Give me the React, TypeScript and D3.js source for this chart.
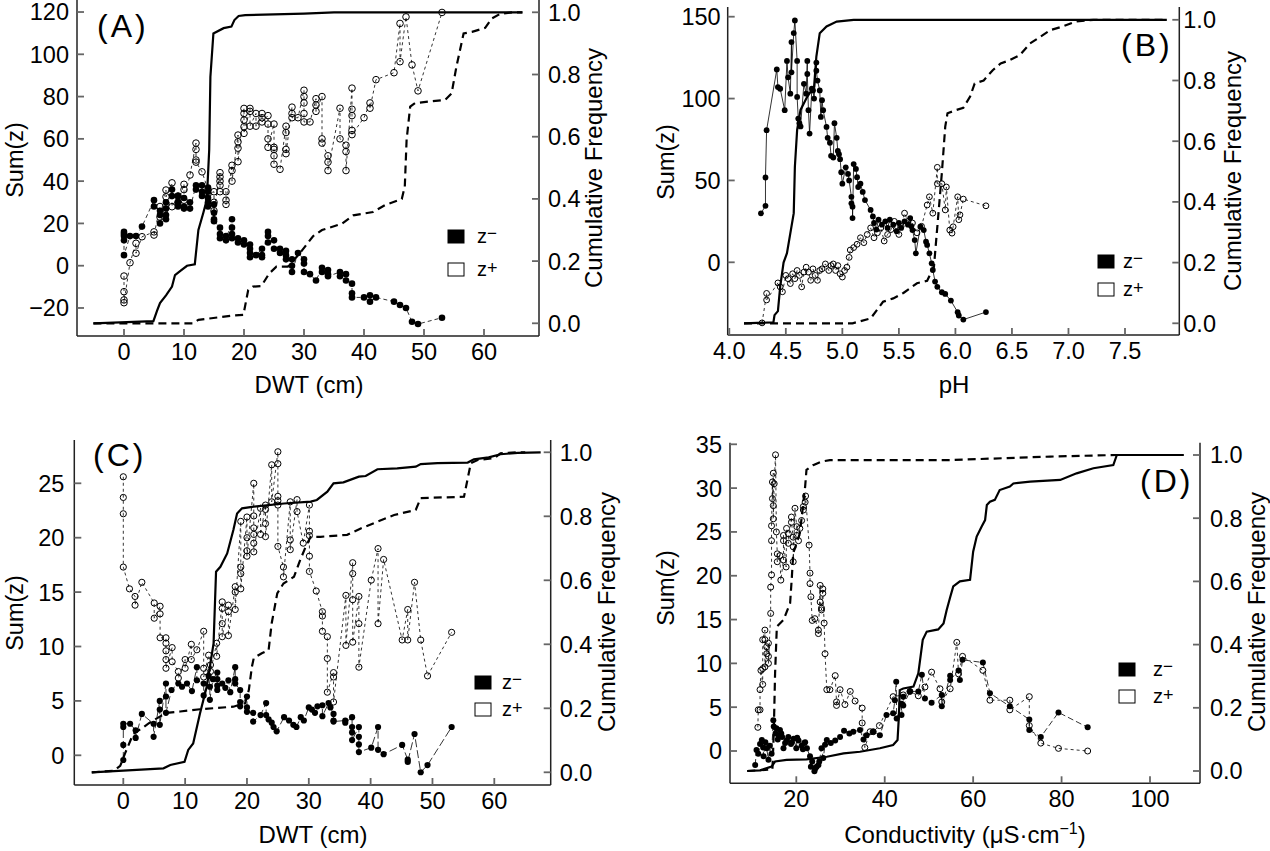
import React from 'react';
import * as d3 from 'd3';

type P = [number, number];

// ---------------- Panel A (DWT) ----------------
const aZminus: P[] = [[0,16],[0,15],[0,14],[0,12],[0,5],[1,14],[2,14],[3,18.5],[5,31],[5,28],[6,26],[6,24],[6,20],[7,30],[7,27],[7,24],[7,22],[8,36],[8,33],[9,33],[9,30],[9,28],[10,32],[10,28],[10,27],[11,30],[11,27],[12,38],[12,36],[13,38],[13,35],[13,33],[14,37],[14,35],[14,32],[14,30],[14,28],[15,29],[15,25],[15,22],[15,21],[16,18],[16,15],[16,13],[17,14],[17,12],[18,22],[18,18],[18,15],[18,13],[19,13],[19,11],[20,12],[20,10],[21,10],[21,8],[21,6],[21,4],[22,5],[23,8],[23,5],[23,4],[24,16],[24,14],[24,11],[25,12],[25,8],[26,8],[26,6],[27,7],[27,5],[27,3],[28,3],[28,0],[28,-3],[29,6],[30,3],[30,1],[30,-3],[31,-4],[32,-7],[33,-1],[33,-3],[34,-2],[34,-4],[34,-5],[36,-3],[36,-5],[37,-4],[37,-7],[38,-8.5],[38,-13],[38,-15],[40,-15],[41,-14],[41,-17],[42,-15],[45,-17],[46,-18.6],[47,-20],[48,-26.5],[49,-27.6],[53,-24.6]];
const aZplus: P[] = [[0,-4.9],[0,-12.3],[0,-16.2],[0,-17.5],[1,1.4],[2,10.6],[2,5.9],[3,13.7],[5,16],[5,14.5],[6,28],[6,23],[7,35.8],[7,32.6],[8,39.2],[8,27.9],[9,33],[9,30],[10,38.5],[10,36],[10,31],[11,42.9],[12,58],[12,55],[12,50],[12,49],[13,44.4],[14,36],[14,34],[15,35],[15,30],[15,26],[16,44],[16,42],[16,40],[16,38],[16,35],[17,35],[17,31],[17,29],[18,47.5],[18,45],[18,40],[19,61.8],[19,58.6],[19,55.6],[19,49.2],[20,74.4],[20,72],[20,68.9],[20,65.7],[20,62.6],[21,74.4],[21,73],[21,66],[22,72],[22,66],[23,72],[23,70],[23,68],[24,71],[24,67],[24,60],[24,56],[25,67],[25,56],[25,55],[25,52],[25,48],[26,45.6],[27,66],[27,63],[27,55],[27,53],[28,75],[28,72],[28,70],[29,70],[30,83],[30,80],[30,77],[30,72],[30,68],[31,68],[32,79],[32,76],[32,73],[33,80],[33,60],[33,58],[34,52],[34,49],[34,45],[36,74.5],[36,60],[37,57],[37,54],[37,45],[38,84],[38,74],[38,71],[38,64],[38,62],[40,70],[41,77],[41,74.5],[42,88],[45,91.3],[46,114.6],[46,96.5],[47,117.7],[48,95],[49,82.7],[53,119.8]];
const aCdfMinus: P[] = [[-5.1,0],[4.9,0.007],[5.5,0.04],[6,0.065],[7,0.09],[8,0.118],[8.5,0.155],[9.5,0.17],[10.5,0.185],[11.8,0.19],[12.4,0.3],[13.2,0.354],[13.8,0.397],[14.2,0.557],[14.4,0.793],[14.9,0.932],[16.6,0.949],[17.9,0.954],[18.4,0.975],[19.1,0.988],[20.2,0.991],[30,0.996],[35,1.0],[66.4,1.0]];
const aCdfPlus: P[] = [[-5.1,0],[11.5,0],[12.4,0.011],[14.9,0.017],[18.2,0.025],[19.9,0.027],[20.7,0.107],[21.5,0.118],[22.9,0.12],[24.2,0.16],[25.4,0.182],[27.3,0.182],[29.3,0.225],[31.5,0.28],[33,0.3],[36.3,0.32],[38.2,0.347],[41.5,0.358],[43.5,0.38],[46.3,0.4],[46.8,0.44],[47.1,0.59],[47.7,0.697],[48.5,0.708],[50.7,0.713],[53.5,0.718],[54.6,0.739],[55.4,0.825],[56.6,0.932],[58,0.937],[60.2,0.95],[61.3,0.98],[62.7,0.995],[64.8,1.0],[66.4,1.0]];
const aTicksX = [0, 10, 20, 30, 40, 50, 60];
const aTicksY = [-20, 0, 20, 40, 60, 80, 100, 120];

// ---------------- Panel B (pH) ----------------
const bZminus: P[] = [[4.28,29.9],[4.32,34.5],[4.32,51.8],[4.33,80.7],[4.42,117.8],[4.43,107],[4.45,106],[4.49,92.9],[4.51,123],[4.52,113],[4.54,103],[4.55,134.5],[4.55,116],[4.57,140],[4.58,147.7],[4.6,123],[4.6,101],[4.61,87.8],[4.62,85],[4.63,83],[4.66,109],[4.68,103],[4.69,123],[4.69,115],[4.7,92.9],[4.71,78.6],[4.73,106],[4.74,105],[4.75,100],[4.77,122],[4.77,117],[4.78,111],[4.8,105],[4.81,88.8],[4.82,99],[4.83,92.9],[4.86,82.7],[4.87,76],[4.89,73],[4.9,65],[4.92,64],[4.93,85],[4.95,76],[4.96,68],[4.97,66],[4.98,63],[4.99,55],[5.0,48],[5.03,58],[5.05,54],[5.06,50],[5.08,40],[5.08,36],[5.09,34],[5.09,27],[5.1,60],[5.12,57],[5.13,52],[5.14,46],[5.16,48],[5.18,43],[5.2,38],[5.25,32],[5.27,28],[5.28,24],[5.3,20],[5.32,26],[5.35,23],[5.38,25],[5.4,21],[5.42,26],[5.45,23],[5.48,19],[5.5,24],[5.52,21],[5.55,25],[5.58,23],[5.6,27],[5.61,22],[5.62,19.7],[5.64,13.6],[5.65,5.5],[5.69,21.7],[5.72,19.7],[5.74,12.6],[5.75,10.6],[5.77,5.5],[5.79,-0.6],[5.8,-4.7],[5.82,-11.8],[5.84,-15],[5.88,-18.3],[5.91,-19.3],[5.96,-23.4],[6.02,-30.5],[6.03,-32.5],[6.07,-35],[6.27,-30.4]];
const bZplus: P[] = [[4.29,-37],[4.33,-19],[4.33,-23],[4.43,-12.6],[4.45,-15],[4.47,-18],[4.5,-8],[4.52,-10],[4.54,-13],[4.56,-7],[4.58,-10],[4.6,-5],[4.62,-8],[4.64,-15],[4.66,-6],[4.68,-3],[4.7,-6],[4.72,-11],[4.74,-4],[4.76,-8],[4.78,-11],[4.8,-5],[4.82,-4],[4.85,-1],[4.88,-5],[4.9,-2],[4.92,-1],[4.94,-5],[4.96,-2],[4.98,-7],[5.0,-9],[5.02,-5],[5.04,-3],[5.06,3],[5.07,7.5],[5.1,9],[5.13,11],[5.16,15],[5.19,12],[5.22,17],[5.25,21],[5.28,15],[5.31,18],[5.34,21],[5.37,13],[5.4,17],[5.43,20],[5.46,25],[5.5,17],[5.52,22],[5.55,30],[5.58,25],[5.62,24],[5.66,18],[5.7,22],[5.75,35],[5.77,40],[5.8,30],[5.84,58],[5.84,48],[5.88,48],[5.91,32],[5.92,46],[5.95,19.7],[5.97,17.8],[5.98,21.7],[6.02,40],[6.03,26],[6.04,29],[6.07,38.6],[6.27,34.5]];
const bCdfMinus: P[] = [[4.13,0],[4.39,0.003],[4.4,0.027],[4.43,0.04],[4.45,0.12],[4.48,0.2],[4.51,0.231],[4.54,0.297],[4.57,0.363],[4.58,0.516],[4.6,0.637],[4.63,0.703],[4.69,0.747],[4.75,0.78],[4.77,0.879],[4.8,0.956],[4.86,0.978],[4.95,0.994],[5.1,1.0],[7.87,1.0]];
const bCdfPlus: P[] = [[4.13,0],[5.09,0],[5.25,0.016],[5.36,0.071],[5.45,0.082],[5.54,0.1],[5.66,0.132],[5.75,0.14],[5.81,0.186],[5.84,0.318],[5.88,0.495],[5.91,0.648],[5.93,0.692],[6.01,0.703],[6.07,0.71],[6.13,0.747],[6.17,0.79],[6.25,0.8],[6.33,0.834],[6.4,0.856],[6.48,0.867],[6.57,0.884],[6.66,0.922],[6.75,0.944],[6.84,0.966],[6.95,0.978],[7.06,0.994],[7.22,1.0],[7.87,1.0]];
const bTicksX = [4.0, 4.5, 5.0, 5.5, 6.0, 6.5, 7.0, 7.5];
const bTicksY = [0, 50, 100, 150];

// ---------------- Panel C (DWT) ----------------
const cZminus: P[] = [[0,-0.43],[0,0.95],[0,2.6],[0,2.9],[1.1,2.9],[2,2.3],[2,1.6],[3,3.8],[4.9,2.9],[4.9,1.7],[5.9,5],[5.9,4.2],[5.9,2.8],[6.9,6.6],[6.9,5.4],[6.9,3.9],[7.8,6],[8.9,6.6],[9.5,6.3],[10.3,6.6],[11.1,5.9],[11.9,8.1],[11.9,6.9],[13,6.6],[13,5.5],[13.8,7.3],[14,6.3],[14,5.1],[14.5,7],[15.2,7.6],[15.2,7],[15.2,6.4],[15.2,6],[16,6.6],[16.5,6.2],[17,6.9],[17.3,5.8],[18.1,8.1],[18.1,7],[18.1,6.6],[18.9,6],[18.9,4.9],[18.9,4.5],[20,5.4],[20,4.4],[20,4],[21,3.9],[21,3.1],[22.2,3.7],[23.1,4.8],[23.1,3.7],[23.5,3.3],[24,3],[24.3,2.6],[24.8,2.2],[26,3.5],[26.8,3.2],[27.5,2.8],[28,2.6],[28.7,3.5],[29.2,3.2],[30,4.4],[30.5,4.2],[31,3.9],[31.4,4.5],[32.2,4.6],[32.2,3.6],[33.2,4.8],[33.5,4.4],[34,3.8],[34,3.2],[34,3.1],[35.9,3.2],[35.9,3],[37,3.5],[37,2.6],[37,2.1],[37,1.4],[38.1,2.6],[38.1,1.7],[38.1,1],[38.1,0.3],[40.1,0.7],[41.2,2.6],[41.2,0.5],[42.1,0.1],[45.1,0.95],[46,-0.4],[46,-0.6],[47.1,1.96],[48.1,-1.56],[49.2,-0.9],[53.1,2.6]];
const cZplus: P[] = [[0,25.6],[0,23.7],[0,22.2],[0,17.3],[1,15.3],[1.9,14.6],[1.9,13.8],[3,15.9],[5,14],[5,12.6],[5.95,13.7],[5.95,13],[5.95,10.8],[6.9,10.8],[6.9,10.3],[6.9,9.6],[6.9,8.8],[6.9,8],[7.9,9.9],[7.9,8.6],[8.9,7.7],[8.9,7.1],[10,8.8],[10,8],[11,10.2],[11,8.8],[11.9,9.7],[13,11.4],[13,8],[13,7.2],[13.8,9.2],[14.1,8.3],[14.1,7.7],[15.1,10.3],[15.1,9.1],[16,14.1],[16,13.5],[16,12.1],[16,10.9],[17,13.8],[17,13.2],[17,11],[18.1,15.5],[18.1,15],[18.1,13.4],[19,21.5],[19,17.3],[19,16.7],[19,15.3],[20,21.9],[20,20],[20,18.8],[20,18.3],[21.1,25],[21.1,22],[21.1,20.9],[21.1,20.3],[21.1,19.5],[21.1,18.7],[22.2,22.7],[22.2,20.3],[23,23],[23,22.6],[23,21.3],[23,20.1],[24,26.7],[24,23.3],[25,27.9],[25,26.8],[25,23.8],[25,23.4],[25,23],[25,19.2],[25.9,17.3],[25.9,16.4],[27,23.3],[27,19.8],[27,18.9],[28.1,23.5],[28.1,22.4],[29.1,19.5],[30.1,23],[30.1,20.6],[30.1,20.2],[30.1,18.3],[30.1,16.9],[31.2,15.1],[32.2,13.2],[32.2,12.8],[32.2,11.4],[33,10.9],[33,8.9],[33,5.8],[34,7.6],[34,7.2],[34,4.9],[36,14.7],[36,10.1],[37.1,17.7],[37.1,16.7],[37.1,14.3],[37.1,10.4],[38.1,14.6],[38.1,12.1],[38.1,8.1],[40.1,16.1],[41.2,19],[41.2,12.1],[42.1,18],[45.1,10.6],[46,13.4],[46,10.6],[47.1,15.9],[48.1,10.6],[49.2,7.3],[53.1,11.3]];
const cCdfMinus: P[] = [[-5.1,0],[0,0.005],[6.5,0.0125],[7.6,0.023],[9.9,0.033],[10.5,0.07],[11.3,0.09],[12.4,0.184],[13.5,0.268],[14.6,0.403],[15,0.627],[15.7,0.642],[16.8,0.684],[17.8,0.757],[18.4,0.809],[19.2,0.825],[21.1,0.83],[26,0.84],[30.3,0.846],[31.3,0.851],[33,0.877],[34,0.903],[35.6,0.906],[38.1,0.924],[39.2,0.926],[41.1,0.947],[44.3,0.95],[47.3,0.955],[48.1,0.963],[50.8,0.966],[55.7,0.968],[56.7,0.978],[59.1,0.984],[61,0.994],[63.8,0.998],[67.5,1.0]];
const cCdfPlus: P[] = [[-5.1,0],[-1.5,0.005],[-0.5,0.02],[0.3,0.06],[1.6,0.12],[3.2,0.14],[4.1,0.153],[5.9,0.174],[7,0.186],[9.2,0.19],[12.4,0.197],[17.8,0.205],[19.7,0.216],[20.3,0.257],[20.8,0.33],[21.1,0.357],[22.4,0.372],[23.5,0.382],[24,0.466],[24.9,0.559],[25.9,0.59],[27.6,0.611],[28.6,0.663],[29.5,0.705],[30.3,0.736],[31.9,0.736],[36.2,0.742],[38.4,0.762],[41.1,0.783],[43.8,0.804],[47.3,0.82],[48.1,0.857],[55.1,0.861],[56.2,0.966],[57.3,0.976],[60,0.982],[61,0.997],[63.8,1.0],[65,1.0]];
const cTicksX = [0, 10, 20, 30, 40, 50, 60];
const cTicksY = [0, 5, 10, 15, 20, 25];

// ---------------- Panel D (Conductivity) ----------------
const dZminus: P[] = [[10.7,-1.6],[11,0.1],[11.4,-0.3],[11.8,0.8],[12.2,1.25],[12.5,0.4],[12.6,-0.6],[13,1.0],[13.3,0.3],[13.7,-1],[14,0.6],[14.4,-0.3],[14.8,3.5],[14.9,2.8],[15.3,2],[15.5,2.6],[15.8,1.3],[16,1.8],[16.3,2.4],[16.6,2.0],[16.8,1.6],[17.1,0.3],[17.5,0.9],[17.8,1.2],[18.2,1.6],[18.8,0.8],[19,1.0],[19.4,1.4],[20,0.3],[20.2,1.5],[20.5,1.2],[21.2,0.6],[21.5,0.2],[21.8,0.9],[22,1.0],[22.4,0.3],[23.1,-0.6],[23.3,-1.8],[23.6,-1.2],[24.1,-2.3],[24.3,-2.0],[24.6,-1.8],[25,-1.6],[25.2,-1.2],[25.7,0.3],[26.1,-0.8],[26.5,0.7],[26.9,1.25],[27.8,0.9],[28.8,1.2],[29.9,1.6],[30.8,2.3],[32.0,2.0],[32.9,2.2],[34.4,2.4],[35.2,1.3],[35.9,1.8],[37.4,2.2],[38.9,1.8],[40.4,4.1],[41.9,4.3],[42.3,5.8],[42.6,7.9],[42.7,3.7],[43.8,5.4],[43.8,4.1],[44.2,6.2],[44.2,5.2],[45.7,6.8],[47.6,6.8],[48.4,8.7],[49.1,6],[50.6,5.5],[52.9,6.4],[52.9,5.1],[54.8,8.6],[54.8,8.1],[56.7,9.2],[57,8.1],[57.6,10.4],[62.2,10.1],[63.8,6.6],[68.3,5.1],[72.7,3.6],[72.7,2.4],[75.3,1.6],[79.3,4.4],[85.9,2.7]];
const dZplus: P[] = [[11.3,2.7],[11.4,4.7],[11.8,4.7],[11.8,7],[12,9.2],[12.4,7.6],[12.4,9.4],[12.4,12.7],[12.9,13.8],[12.9,12.7],[12.9,9.6],[13.3,11.9],[13.3,11.1],[13.7,12.3],[13.7,10.8],[13.7,10],[14.2,15.7],[14.2,18.7],[14.4,20.1],[14.4,24],[14.4,25.7],[14.6,30.7],[14.6,28.8],[14.8,31.7],[14.8,28],[14.8,26.5],[15,30.5],[15.3,33.8],[15.5,25],[15.7,22.5],[15.7,21.6],[16.3,22.3],[16.5,19.5],[17.1,21.8],[17.1,24.6],[17.1,24],[17.7,21],[17.8,25.4],[18.2,24.8],[18.2,23.7],[18.9,26.7],[18.9,26.1],[19.3,24.4],[19.3,23.3],[19.3,21.6],[19.7,27.7],[20.1,25.6],[20.1,24.6],[20.5,24],[20.8,25.4],[21.2,26.3],[21.6,27.9],[21.6,27.5],[22,28.4],[22.1,29.1],[22.9,23.5],[23.1,20.3],[23.1,19.1],[23.3,17.6],[23.6,14.9],[24.2,15.1],[25,13.8],[25,13.4],[25.4,18.9],[25.4,17],[25.7,16.3],[25.7,16.1],[26,18.5],[26,18],[26.3,14.6],[26.5,11.1],[26.9,7],[27.6,7],[28.8,8.6],[29.1,5.6],[29.1,5.2],[29.9,7],[31,5.3],[32.2,6.8],[33.3,5.7],[34.9,4.9],[34.9,3.2],[35.5,0.4],[36.7,2.2],[37.4,2.2],[38.8,2.9],[41.9,6.2],[44.2,6.4],[45.7,6.8],[47.6,6.3],[49.1,7.3],[50.6,9.0],[52.5,7.1],[52.9,5.6],[54.8,7.1],[56.3,12.4],[56.7,8.8],[57.6,10.8],[62.2,9.2],[63.8,5.8],[68.3,5.8],[68.3,4.7],[72.7,6.2],[72.7,2.9],[75.3,0.9],[79.3,0.3],[85.9,0]];
const dCdfMinus: P[] = [[8.9,0],[11.8,0.002],[14.4,0.014],[15.2,0.03],[17.8,0.035],[22.3,0.037],[26.9,0.045],[30.7,0.056],[34.4,0.061],[38.9,0.072],[41.9,0.082],[42.9,0.098],[43.2,0.172],[43.4,0.256],[44.2,0.261],[46.5,0.267],[47.6,0.309],[48.6,0.415],[49.5,0.441],[52.1,0.448],[53.3,0.467],[54,0.509],[54.8,0.55],[55.5,0.584],[57,0.6],[59.3,0.605],[60,0.694],[60.8,0.742],[61.9,0.773],[62.7,0.794],[63.1,0.842],[63.8,0.852],[64.9,0.858],[66,0.889],[68.3,0.9],[69.1,0.91],[72.9,0.916],[79.7,0.921],[83.4,0.942],[87.2,0.958],[91.7,0.968],[92.5,1.0],[107.6,1.0]];
const dCdfPlus: P[] = [[8.9,0],[14.6,0.005],[14.9,0.12],[15.2,0.309],[15.6,0.457],[17.1,0.478],[18.6,0.531],[19,0.615],[19.3,0.689],[20.8,0.752],[22,0.9],[22.3,0.953],[23.8,0.968],[25.7,0.979],[27.6,0.984],[54.8,0.984],[77.4,0.995],[92.5,1.0],[107.6,1.0]];
const dTicksX = [20, 40, 60, 80, 100];
const dTicksY = [0, 5, 10, 15, 20, 25, 30, 35];

const cumTicks = [0, 0.2, 0.4, 0.6, 0.8, 1.0];

// ---------------- layout ----------------
interface Cfg {
  zm: P[]; zp: P[]; cm: P[]; cp: P[];
  xt: number[]; yt: number[]; xFmt: (v: number) => string;
  box: [number, number, number, number]; // x0, x1, yTop, yBottom
  xRef: [number, number]; xPx: [number, number];
  yRef: [number, number]; yPx: [number, number];
  rPx: [number, number];
  lGap: number; rGap: number;
  label: string; labelX: number; labelY: number;
  xTitle: React.ReactNode; xTitleX: number; xTitleY: number;
  sumX: number; sumY: number; cumX: number; cumY: number;
  leg: [number, number, number, number];
  r: number; zmDash: string;
}

const fmt1 = d3.format('.1f');
const fmtInt = (v: number) => (v < 0 ? '\u2212' + Math.abs(v) : String(v));

const panels: Cfg[] = [
  {
    zm: aZminus, zp: aZplus, cm: aCdfMinus, cp: aCdfPlus, xt: aTicksX, yt: aTicksY, xFmt: fmtInt,
    box: [77, 539, 0, 336], xRef: [0, 60], xPx: [124, 484], yRef: [0, 100], yPx: [265.7, 54.3], rPx: [323.3, 12.3],
    lGap: 8, rGap: 9, label: '(A)', labelX: 97, labelY: 37,
    xTitle: 'DWT (cm)', xTitleX: 309, xTitleY: 393, sumX: 23, sumY: 160, cumX: 602, cumY: 168,
    leg: [448, 230, 263, 477], r: 3.3, zmDash: '4,3',
  },
  {
    zm: bZminus, zp: bZplus, cm: bCdfMinus, cp: bCdfPlus, xt: bTicksX, yt: bTicksY, xFmt: fmt1,
    box: [727.7, 1179.3, 7, 335], xRef: [4, 7.5], xPx: [729.3, 1125], yRef: [0, 150], yPx: [262.3, 16.7], rPx: [323.3, 19.8],
    lGap: 7, rGap: 4, label: '(B)', labelX: 1121, labelY: 56,
    xTitle: 'pH', xTitleX: 954, xTitleY: 393, sumX: 674, sumY: 162, cumX: 1240.5, cumY: 171,
    leg: [1098, 255, 283, 1123], r: 2.9, zmDash: 'none',
  },
  {
    zm: cZminus, zp: cZplus, cm: cCdfMinus, cp: cCdfPlus, xt: cTicksX, yt: cTicksY, xFmt: fmtInt,
    box: [74.3, 550.7, 440, 785], xRef: [0, 60], xPx: [123.3, 494.3], yRef: [0, 25], yPx: [755.3, 483.3], rPx: [772.3, 452.3],
    lGap: 10, rGap: 9, label: '(C)', labelX: 93, labelY: 466,
    xTitle: 'DWT (cm)', xTitleX: 313, xTitleY: 843, sumX: 23, sumY: 613, cumX: 614.5, cumY: 612,
    leg: [475, 676, 703, 502], r: 3.1, zmDash: '8,3',
  },
  {
    zm: dZminus, zp: dZplus, cm: dCdfMinus, cp: dCdfPlus, xt: dTicksX, yt: dTicksY, xFmt: fmtInt,
    box: [730, 1200, 442.7, 783.3], xRef: [20, 100], xPx: [796.3, 1150], yRef: [0, 35], yPx: [751, 444.3], rPx: [771, 455],
    lGap: 8, rGap: 10, label: '(D)', labelX: 1140, labelY: 492,
    xTitle: (
      <>
        {'Conductivity (\u03BCS\u00B7cm'}
        <tspan dy={-9} fontSize={16}>{'\u22121'}</tspan>
        <tspan dy={9}>)</tspan>
      </>
    ),
    xTitleX: 965, xTitleY: 843, sumX: 674, sumY: 588, cumX: 1264.5, cumY: 612,
    leg: [1119, 663, 690, 1153], r: 3.0, zmDash: '6,3',
  },
];

const FONT = "'Liberation Sans', Arial, Helvetica, sans-serif";

function sortByX(a: P[]): P[] {
  return a.map((p, i) => ({ p, i })).sort((u, v) => u.p[0] - v.p[0] || u.i - v.i).map(d => d.p);
}

function Panel({ c }: { c: Cfg }) {
  const [x0, x1, yT, yB] = c.box;
  const x = d3.scaleLinear().domain(c.xRef).range(c.xPx);
  const yl = d3.scaleLinear().domain(c.yRef).range(c.yPx);
  const yr = d3.scaleLinear().domain([0, 1]).range(c.rPx);
  const lineL = d3.line<P>().x(d => x(d[0])).y(d => yl(d[1]));
  const lineR = d3.line<P>().x(d => x(d[0])).y(d => yr(d[1]));
  const zm = sortByX(c.zm);
  const zp = sortByX(c.zp);
  const tickLen = 7;
  const axisCol = '#222';
  const tickCol = '#666';
  const tickFs = 23.5;
  const [lx, ly1, ly2, ltx] = c.leg;
  return (
    <g fontFamily={FONT} fill="#000">
      {/* connecting lines */}
      <path d={lineL(zm) || ''} fill="none" stroke="#000" strokeWidth={0.8} strokeDasharray={c.zmDash} />
      <path d={lineL(zp) || ''} fill="none" stroke="#000" strokeWidth={0.8} strokeDasharray="3,3" />
      {/* points */}
      {zm.map((d, i) => (
        <circle key={'m' + i} cx={x(d[0])} cy={yl(d[1])} r={c.r} fill="#000" stroke="none" />
      ))}
      {zp.map((d, i) => (
        <circle key={'p' + i} cx={x(d[0])} cy={yl(d[1])} r={c.r} fill="none" stroke="#000" strokeWidth={1} />
      ))}
      {/* cumulative frequency curves */}
      <path d={lineR(c.cp) || ''} fill="none" stroke="#000" strokeWidth={2.2} strokeDasharray="8,5" />
      <path d={lineR(c.cm) || ''} fill="none" stroke="#000" strokeWidth={2.2} />
      {/* axes */}
      <line x1={x0} x2={x0} y1={yT} y2={yB} stroke={axisCol} strokeWidth={1.5} />
      <line x1={x1} x2={x1} y1={yT} y2={yB} stroke={axisCol} strokeWidth={1.5} />
      <line x1={x0} x2={x1} y1={yB} y2={yB} stroke={axisCol} strokeWidth={1.5} />
      {c.xt.map(v => (
        <g key={'xt' + v}>
          <line x1={x(v)} x2={x(v)} y1={yB} y2={yB - tickLen} stroke={tickCol} strokeWidth={1.8} />
          <text x={x(v)} y={yB + 24} fontSize={tickFs} textAnchor="middle">{c.xFmt(v)}</text>
        </g>
      ))}
      {c.yt.map(v => (
        <g key={'yt' + v}>
          <line x1={x0} x2={x0 + tickLen} y1={yl(v)} y2={yl(v)} stroke={tickCol} strokeWidth={1.8} />
          <text x={x0 - c.lGap} y={yl(v)} dy="0.36em" fontSize={tickFs} textAnchor="end">{fmtInt(v)}</text>
        </g>
      ))}
      {cumTicks.map(v => (
        <g key={'rt' + v}>
          <line x1={x1} x2={x1 - tickLen} y1={yr(v)} y2={yr(v)} stroke={tickCol} strokeWidth={1.8} />
          <text x={x1 + c.rGap} y={yr(v)} dy="0.36em" fontSize={tickFs} textAnchor="start">{fmt1(v)}</text>
        </g>
      ))}
      {/* titles */}
      <text x={c.xTitleX} y={c.xTitleY} fontSize={24} textAnchor="middle">{c.xTitle}</text>
      <text transform={`translate(${c.sumX},${c.sumY}) rotate(-90)`} fontSize={23.5} textAnchor="middle">Sum(z)</text>
      <text transform={`translate(${c.cumX},${c.cumY}) rotate(-90)`} fontSize={24} textAnchor="middle">Cumulative Frequency</text>
      <text x={c.labelX} y={c.labelY} fontSize={32} letterSpacing={3}>{c.label}</text>
      {/* legend */}
      <rect x={lx} y={ly1} width={16} height={13} fill="#000" stroke="#000" strokeWidth={1} />
      <rect x={lx} y={ly2} width={16} height={13} fill="#fff" stroke="#000" strokeWidth={1} />
      <text x={ltx} y={ly1 + 13} fontSize={20}>z<tspan dy={-4} fontSize={17}>{'\u2212'}</tspan></text>
      <text x={ltx} y={ly2 + 13} fontSize={20}>z<tspan dy={-2} fontSize={18}>+</tspan></text>
    </g>
  );
}

export default function App() {
  return (
    <svg width={1270} height={851} viewBox="0 0 1270 851"
      style={{ position: 'absolute', left: 0, top: 0, background: '#fff' }}>
      <rect x={0} y={0} width={1270} height={851} fill="#fff" />
      {panels.map((c, i) => <Panel key={i} c={c} />)}
    </svg>
  );
}
